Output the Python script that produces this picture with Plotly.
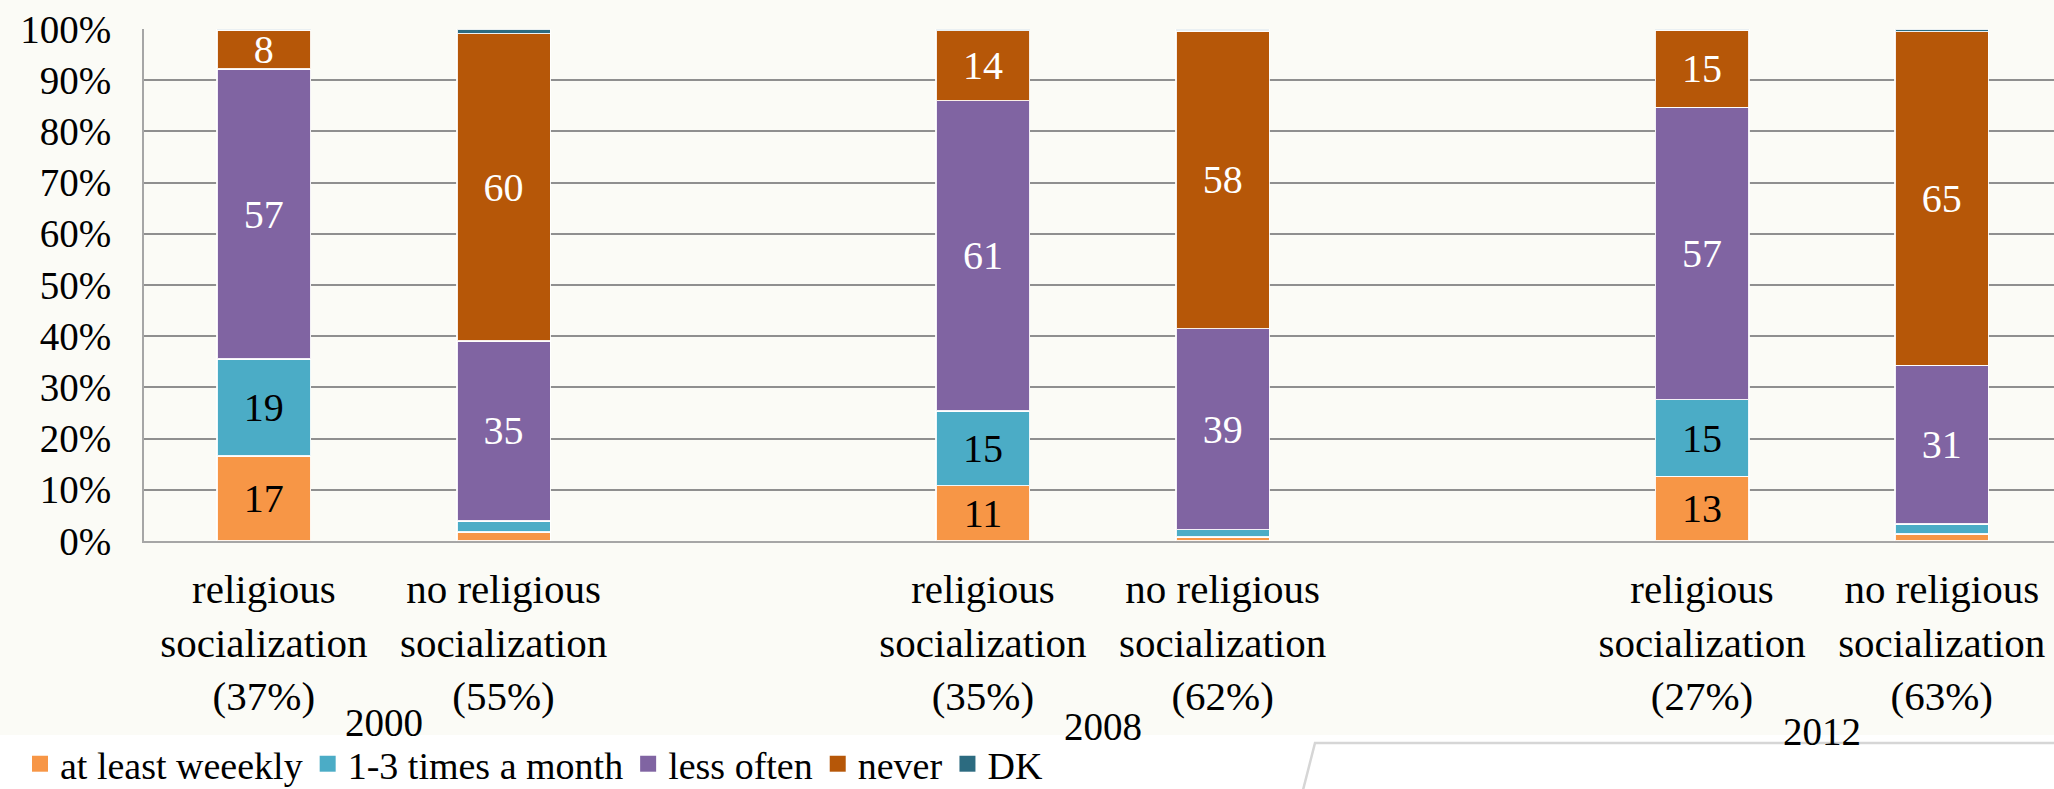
import plotly.graph_objects as go

years = ["2000", "2008", "2012"]
groups = ["religious<br>socialization", "no religious<br>socialization"]
group_shares = [["(37%)", "(55%)"], ["(35%)", "(62%)"], ["(27%)", "(63%)"]]

series_names = ["at least weeekly", "1-3 times a month", "less often", "never", "DK"]
series_colors = ["#F79646", "#4BACC6", "#8064A2", "#B65708", "#2C6B80"]
label_colors = ["#000000", "#000000", "#FFFFFF", "#FFFFFF", "#FFFFFF"]

# order of bars: 2000 rel, 2000 no rel, 2008 rel, 2008 no rel, 2012 rel, 2012 no rel
weekly = [16.6, 1.8, 10.8, 0.8, 12.6, 1.4]
monthly = [18.9, 2.1, 14.6, 1.4, 15.0, 1.9]
less_often = [56.7, 35.2, 60.6, 39.3, 57.1, 31.0]
never = [7.6, 60.0, 13.7, 58.1, 15.1, 65.2]
dk = [0.2, 0.9, 0.3, 0.4, 0.2, 0.5]
series_values = [weekly, monthly, less_often, never, dk]

y_ticks = list(range(0, 101, 10))
y_ticktext = [f"{v}%" for v in y_ticks]

FONT = "Liberation Serif"

# x positions: two bars per year, one empty slot between years
xpos = []
ticktext = []
for gi, yr in enumerate(years):
    for j, g in enumerate(groups):
        xpos.append(gi * 3 + j)
        ticktext.append(g + "<br>" + group_shares[gi][j])

fig = go.Figure()
for name, col, lcol, vals in zip(series_names, series_colors, label_colors, series_values):
    fig.add_trace(go.Bar(
        x=xpos, y=vals, name=name, showlegend=False,
        marker=dict(color=col, line=dict(color="rgba(255,255,255,0.9)", width=1.5)),
        width=0.39,
        text=[f"{round(v)}" if v >= 5 else "" for v in vals],
        textposition="inside", insidetextanchor="middle", textangle=0,
        constraintext="none",
        textfont=dict(family=FONT, size=40, color=lcol),
    ))
# legend entries (square swatches)
for name, col in zip(series_names, series_colors):
    fig.add_trace(go.Scatter(
        x=[None], y=[None], mode="markers", name=name,
        marker=dict(symbol="square", size=16, color=col),
    ))

W, H = 2054, 789
ml, mt, mb = 144, 29, 248
plot_w = W - ml
plot_h = H - mt - mb
step = 239.7

def py(pix):
    return -(pix - (H - mb)) / plot_h

def px(pix):
    return (pix - ml) / plot_w

# bottom white band
fig.add_shape(type="rect", xref="paper", yref="paper",
              x0=px(-10), x1=px(W + 10), y0=py(H + 10), y1=py(735),
              fillcolor="#FFFFFF", line=dict(width=0), layer="below")
# slanted box at bottom right
fig.add_shape(type="path", xref="paper", yref="paper",
              path=f"M {px(1302)},{py(H+5)} L {px(1315)},{py(743)} L {px(W+10)},{py(743)}",
              line=dict(color="#D6D6D6", width=2.5), layer="below")

year_y = [722, 726, 731]
for gi, yr in enumerate(years):
    fig.add_annotation(x=gi * 3 + 0.5, y=py(year_y[gi]), xref="x", yref="paper",
                       text=yr, showarrow=False, yanchor="middle",
                       font=dict(family=FONT, size=39, color="#000000"))

fig.update_layout(
    width=W, height=H,
    barmode="stack",
    margin=dict(l=ml, r=0, t=mt, b=mb, autoexpand=False),
    paper_bgcolor="#FBFBF6",
    plot_bgcolor="#FBFBF6",
    font=dict(family=FONT, size=38, color="#000000"),
    showlegend=True,
    legend=dict(orientation="h", x=px(20), xanchor="left", y=py(764), yanchor="middle",
                font=dict(family=FONT, size=38, color="#000000"),
                bgcolor="rgba(0,0,0,0)", itemclick=False, traceorder="normal"),
    xaxis=dict(range=[-0.5, -0.5 + plot_w / step], tickmode="array", tickvals=xpos,
               ticktext=ticktext, showgrid=False, zeroline=False, showline=True,
               linecolor="#A6A6A6", linewidth=2, ticks="", ticklabelstandoff=11,
               automargin=False,
               tickfont=dict(family=FONT, size=41, color="#000000"), fixedrange=True),
    yaxis=dict(range=[0, 100], tickmode="array", tickvals=y_ticks, ticktext=y_ticktext,
               showgrid=True, gridcolor="#8F8F8F", gridwidth=2,
               zeroline=False, showline=True, linecolor="#A6A6A6", linewidth=2,
               ticks="", ticklabelstandoff=23, automargin=False,
               tickfont=dict(family=FONT, size=39, color="#000000"), fixedrange=True),
)

fig.write_html("out.html")
